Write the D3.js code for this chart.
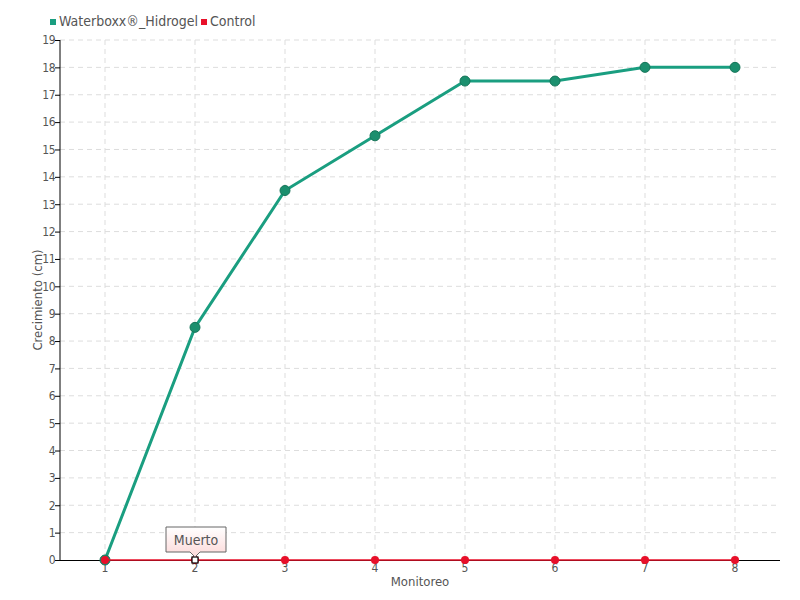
<!DOCTYPE html>
<html><head><meta charset="utf-8">
<script src="https://cdn.jsdelivr.net/npm/d3@7/dist/d3.min.js"></script>
<style>
body{margin:0;background:#fff;}
text{font-family:"DejaVu Sans Condensed","DejaVu Sans",sans-serif;font-stretch:condensed;fill:#555;}
</style></head><body>
<svg id="c" width="800" height="600"></svg>
<script>
const categories = ["1","2","3","4","5","6","7","8"];
const waterboxx = [0, 8.5, 13.5, 15.5, 17.5, 17.5, 18, 18];
const control = [0, 0, 0, 0, 0, 0, 0, 0];
const seriesNames = ["Waterboxx®_Hidrogel", "Control"];
const yTicks = d3.range(0, 20);
const annotation = {index: 1, label: "Muerto"};

const svg = d3.select("#c");
const L = 60, R = 780, T = 40, B = 560;
const x = d3.scaleBand().domain(categories).range([L, R]);
const y = d3.scaleLinear().domain([0, 19]).range([B, T]);
const cx = d => x(d) + x.bandwidth() / 2;

// grid
svg.append("g").selectAll("line").data(yTicks.filter(d => d > 0)).join("line")
  .attr("x1", L).attr("x2", R).attr("y1", d => y(d)).attr("y2", d => y(d))
  .attr("stroke", "#ddd").attr("stroke-dasharray", "5,4");
svg.append("g").selectAll("line").data(categories).join("line")
  .attr("x1", d => cx(d)).attr("x2", d => cx(d)).attr("y1", T).attr("y2", B)
  .attr("stroke", "#ddd").attr("stroke-dasharray", "5,4");

// axes
const ya = svg.append("g").attr("transform", `translate(${L},0)`)
  .call(d3.axisLeft(y).tickValues(yTicks).tickSize(5).tickPadding(0).tickFormat(d3.format("d")));
ya.select(".domain").attr("stroke", "#000").attr("d", `M-0,${T}V${B}`);
ya.selectAll(".tick line").attr("stroke", "#000");
ya.selectAll(".tick text").attr("font-size", 12).attr("letter-spacing", -0.5).style("fill", "#555");

const xa = svg.append("g").attr("transform", `translate(0,${B})`)
  .call(d3.axisBottom(x).tickSize(0).tickPadding(3));
xa.select(".domain").attr("stroke", "#000").attr("d", `M${L},0.5H${R}`);
xa.selectAll(".tick text").attr("font-size", 12).style("fill", "#555");

// axis titles
svg.append("text").attr("transform", `translate(42,${(T + B) / 2}) rotate(-90)`)
  .attr("text-anchor", "middle").attr("font-size", 13).text("Crecimiento (cm)");
svg.append("text").attr("x", (L + R) / 2).attr("y", 586)
  .attr("text-anchor", "middle").attr("font-size", 13).text("Monitoreo");

// lines
const line = d3.line().x((d, i) => cx(categories[i])).y(d => y(d));
svg.append("path").datum(waterboxx).attr("d", line).attr("fill", "none")
  .attr("stroke", "#1a9e80").attr("stroke-width", 3);
svg.append("g").selectAll("circle").data(waterboxx).join("circle")
  .attr("cx", (d, i) => cx(categories[i])).attr("cy", d => y(d)).attr("r", 5)
  .attr("fill", "#1b8f6e").attr("stroke", "#167559").attr("stroke-width", 1);

svg.append("path").datum(control).attr("d", line).attr("fill", "none")
  .attr("stroke", "#e8102a").attr("stroke-width", 1.5);
svg.append("g").selectAll("circle").data(control).join("circle")
  .attr("cx", (d, i) => cx(categories[i])).attr("cy", d => y(d)).attr("r", 4)
  .attr("fill", "#e8102a");

// highlighted point
const ax = cx(categories[annotation.index]), ay = y(control[annotation.index]);
svg.append("rect").attr("x", ax - 3).attr("y", ay - 3).attr("width", 6).attr("height", 6)
  .attr("fill", "#fff").attr("stroke", "#000").attr("stroke-width", 1.2);

// tooltip
const defs = svg.append("defs");
const gr = defs.append("linearGradient").attr("id", "tg").attr("x1", 0).attr("x2", 0).attr("y1", 0).attr("y2", 1);
gr.append("stop").attr("offset", "0%").attr("stop-color", "#fff");
gr.append("stop").attr("offset", "100%").attr("stop-color", "#fcd8d8");
const tw = 60, th = 25, tx = ax - 29, ty = ay - 33;
svg.append("path")
  .attr("d", `M${tx},${ty}H${tx + tw}V${ty + th}H${ax + 5}L${ax},${ty + th + 5}L${ax - 5},${ty + th}H${tx}Z`)
  .attr("fill", "url(#tg)").attr("stroke", "#666").attr("stroke-width", 1);
svg.append("text").attr("x", tx + tw / 2).attr("y", ty + 18).attr("text-anchor", "middle")
  .attr("font-size", 14).text(annotation.label);

// legend
const colors = ["#1a9e80", "#e8102a"];
const lg = svg.append("g");
let lx = 50;
seriesNames.forEach((n, i) => {
  lg.append("rect").attr("x", lx).attr("y", 19).attr("width", 6).attr("height", 6).attr("fill", colors[i]);
  const t = lg.append("text").attr("x", lx + 9).attr("y", 26).attr("font-size", 14).text(n);
  lx += 9 + t.node().getComputedTextLength() + 3;
});
</script></body></html>
